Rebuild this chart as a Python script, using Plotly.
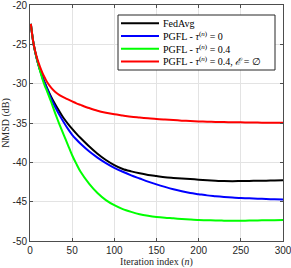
import plotly.graph_objects as go

iterations = [1, 2, 4, 6, 8, 10, 12, 15, 18, 20, 25, 30, 35, 40, 45, 50, 55, 60, 70, 80, 90,
              100, 110, 120, 130, 140, 150, 160, 170, 180, 190, 200, 210, 220, 230, 240, 250,
              260, 270, 280, 290, 300]

fedavg = [-22.4, -23.3, -24.8, -25.9, -26.8, -27.6, -28.3, -29.2, -30.0, -30.5, -31.65, -32.65,
          -33.55, -34.4, -35.1, -35.75, -36.35, -36.9, -37.95, -38.9, -39.7, -40.35, -40.85, -41.15,
          -41.4, -41.6, -41.75, -41.9, -41.98, -42.05, -42.12, -42.2, -42.27, -42.33, -42.38,
          -42.4, -42.38, -42.36, -42.35, -42.33, -42.3, -42.28]

pgfl_tau0 = [-22.4, -23.3, -24.8, -25.9, -26.8, -27.6, -28.3, -29.3, -30.1, -30.6, -31.9, -33.0,
             -34.0, -34.9, -35.75, -36.5, -37.1, -37.65, -38.6, -39.4, -40.1, -40.7, -41.2, -41.65,
             -42.05, -42.45, -42.8, -43.12, -43.42, -43.68, -43.9, -44.05, -44.2, -44.3, -44.4,
             -44.48, -44.53, -44.58, -44.62, -44.66, -44.7, -44.72]

pgfl_tau04 = [-22.4, -23.3, -24.8, -25.9, -26.8, -27.6, -28.4, -29.5, -30.4, -30.9, -32.3, -33.8,
              -35.2, -36.5, -37.8, -39.1, -40.2, -41.2, -42.7, -43.9, -44.8, -45.45, -45.95, -46.3,
              -46.6, -46.8, -46.95, -47.05, -47.12, -47.2, -47.27, -47.33, -47.36, -47.4, -47.41,
              -47.42, -47.42, -47.4, -47.38, -47.36, -47.35, -47.33]

pgfl_tau04_noedge = [-22.4, -23.3, -24.8, -25.8, -26.6, -27.3, -27.9, -28.7, -29.35, -29.75, -30.5,
                     -31.05, -31.45, -31.75, -32.0, -32.25, -32.5, -32.7, -33.1, -33.45, -33.7,
                     -33.9, -34.05, -34.2, -34.3, -34.4, -34.5, -34.57, -34.63, -34.7, -34.75,
                     -34.8, -34.83, -34.86, -34.88, -34.9, -34.92, -34.94, -34.95, -34.96, -34.97,
                     -34.98]

labels = [
    "FedAvg",
    "PGFL - <i>τ</i><sup>(<i>n</i>)</sup> = 0",
    "PGFL - <i>τ</i><sup>(<i>n</i>)</sup> = 0.4",
    "PGFL - <i>τ</i><sup>(<i>n</i>)</sup> = 0.4, <i>ℰ</i> = ∅",
]
colors = ["#000000", "#0000ff", "#00ff00", "#ff0000"]
series = [fedavg, pgfl_tau0, pgfl_tau04, pgfl_tau04_noedge]

x_ticks = [0, 50, 100, 150, 200, 250, 300]
y_ticks = [-50, -45, -40, -35, -30, -25, -20]

W, H = 291, 268
ML, MR, MT, MB = 30, 8, 5, 27
PW, PH = W - ML - MR, H - MT - MB

def px_x(p):
    return (p - ML) / PW

def px_y(p):
    return (H - MB - p) / PH

fig = go.Figure()
for name, vals, col in zip(labels, series, colors):
    fig.add_trace(go.Scatter(x=iterations, y=vals, mode="lines", name=name,
                             line=dict(color=col, width=2, shape="spline", smoothing=0.8),
                             showlegend=False, hoverinfo="skip"))

serif = "Liberation Serif, DejaVu Serif, serif"
sans = "Liberation Sans, Arial, sans-serif"

axis_common = dict(showline=True, linecolor="#4d4d4d", linewidth=1, mirror="ticks",
                   ticks="inside", ticklen=3, tickcolor="#4d4d4d",
                   showgrid=True, gridcolor="#e3e3e3", gridwidth=1, zeroline=False,
                   ticklabeloverflow="allow",
                   tickfont=dict(family=sans, size=10, color="#262626"))

fig.update_xaxes(range=[0, 300], tickvals=x_ticks, ticktext=[str(v) for v in x_ticks],
                 title=dict(text="Iteration index (<i>n</i>)", font=dict(family=serif, size=10, color="#262626"),
                            standoff=2),
                 **axis_common)
fig.update_yaxes(range=[-50, -20], tickvals=y_ticks, ticktext=[str(v) for v in y_ticks],
                 title=dict(text="NMSD (dB)", font=dict(family=serif, size=10, color="#262626"),
                            standoff=2),
                 **axis_common)

# Legend drawn manually to match compact spacing
shapes = [dict(type="rect", xref="paper", yref="paper",
               x0=px_x(118), x1=px_x(275), y0=px_y(70), y1=px_y(15),
               line=dict(color="#262626", width=1), fillcolor="white", layer="above")]
annotations = []
entry_y = [23.3, 36.0, 48.7, 61.4]
for lab, col, yy in zip(labels, colors, entry_y):
    shapes.append(dict(type="line", xref="paper", yref="paper",
                       x0=px_x(121), x1=px_x(159), y0=px_y(yy), y1=px_y(yy),
                       line=dict(color=col, width=2), layer="above"))
    annotations.append(dict(xref="paper", yref="paper", x=px_x(161), y=px_y(yy),
                            xanchor="left", yanchor="middle", text=lab, showarrow=False,
                            font=dict(family=serif, size=10, color="#000000")))

fig.update_layout(width=W, height=H, margin=dict(l=ML, r=MR, t=MT, b=MB, autoexpand=False),
                  paper_bgcolor="white", plot_bgcolor="white", hovermode=False,
                  shapes=shapes, annotations=annotations, showlegend=False)

fig.write_html("out.html", config={"displayModeBar": False},
               post_script="document.body.style.margin='0';document.body.style.padding='0';")
